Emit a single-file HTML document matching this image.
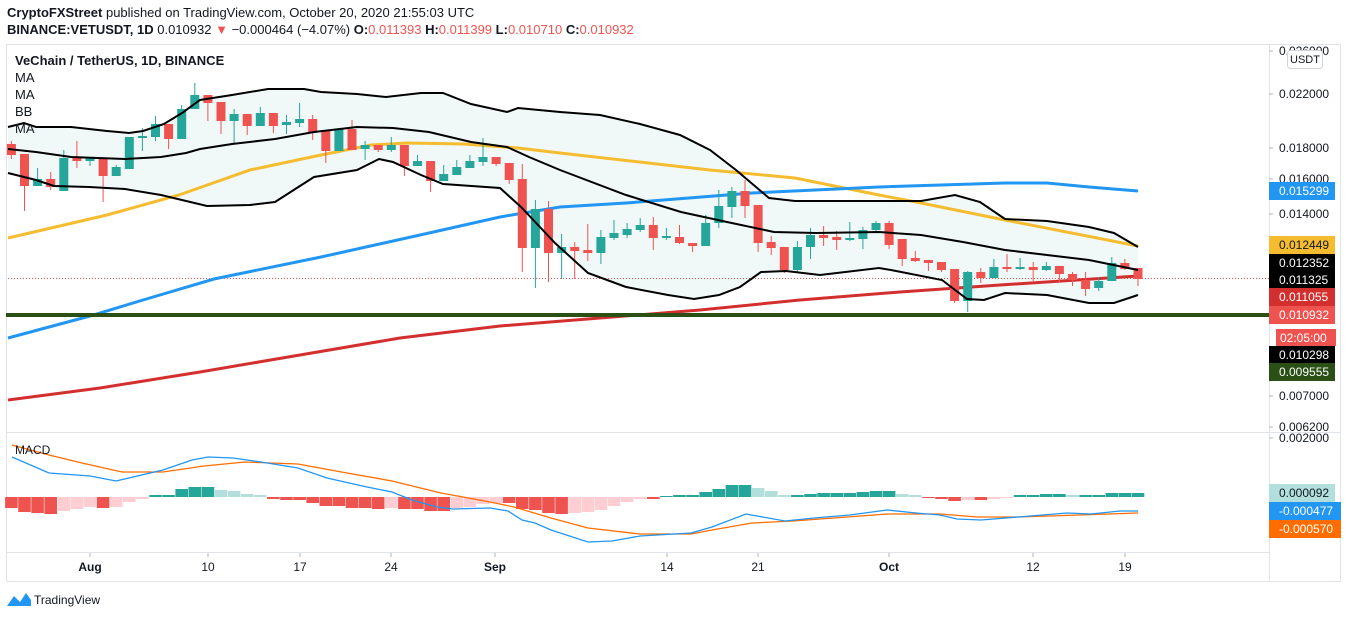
<!DOCTYPE html>
<html><head><meta charset="utf-8"><style>
body{margin:0;width:1348px;height:618px;background:#fff;font-family:"Liberation Sans",sans-serif;overflow:hidden;position:relative}
.t{position:absolute;font-size:13px;color:#131722;white-space:nowrap}
</style></head><body>
<div class="t" style="left:7px;top:5px;font-size:13px"><b>CryptoFXStreet</b> published on TradingView.com, October 20, 2020 21:55:03 UTC</div>
<div class="t" style="left:7px;top:22px;font-size:13px"><b>BINANCE:VETUSDT, 1D</b> 0.010932 <span style="color:#ef5350">▼</span> −0.000464 (−4.07%) <b>O:</b><span style="color:#ef5350">0.011393</span> <b>H:</b><span style="color:#ef5350">0.011399</span> <b>L:</b><span style="color:#ef5350">0.010710</span> <b>C:</b><span style="color:#ef5350">0.010932</span></div>
<svg id="s" width="1348" height="618" style="position:absolute;left:0;top:0" font-family="Liberation Sans, sans-serif"></svg>
<script>
const S=document.getElementById('s');let h='';
function P(pts){return pts.map((p,i)=>(i?'L':'M')+p[0]+' '+p[1]).join(' ')}
const up=[[8,127],[24,123],[36,127],[71,127],[107,131],[129,133],[143,131],[164,124],[182,113],[200,100],[232,95],[268,89],[304,89],[321,92],[357,94],[386,97],[421,93],[443,93],[471,104],[507,112],[518,108],[560,112],[600,115],[640,124],[680,135],[710,150],[736,170],[769,198],[795,201],[921,201],[955,195],[980,202],[1005,219],[1047,221],[1089,227],[1114,233],[1138,247]];
const mid=[[8,149],[36,152],[71,157],[125,159],[161,157],[186,153],[200,149],[232,144],[275,139],[314,132],[357,127],[393,128],[429,132],[471,142],[507,147],[529,157],[560,170],[626,195],[681,212],[727,222],[774,232],[816,233],[879,232],[921,235],[963,242],[1005,250],[1047,255],[1089,260],[1138,270]];
const lo=[[8,173],[36,180],[54,186],[89,187],[125,189],[161,195],[207,206],[250,205],[275,202],[314,177],[357,170],[379,159],[393,162],[421,175],[443,184],[500,188],[521,207],[555,243],[588,273],[626,287],[668,295],[694,299],[719,295],[740,287],[761,272],[786,271],[820,275],[879,268],[891,270],[942,280],[967,299],[984,300],[1005,293],[1047,295],[1089,303],[1114,303],[1138,295]];
// grid/frame
h+='<rect x="6.5" y="44.5" width="1334" height="537" fill="none" stroke="#e0e3eb"/>';
h+='<line x1="1269.5" y1="44" x2="1269.5" y2="581" stroke="#e0e3eb"/>';
h+='<line x1="6" y1="432.5" x2="1340" y2="432.5" stroke="#e0e3eb"/>';
h+='<line x1="6" y1="552.5" x2="1269" y2="552.5" stroke="#e0e3eb"/>';
h+='<path d="'+P(up)+' '+P(lo.slice().reverse()).replace('M','L')+' Z" fill="#eef6f6" opacity="0.8"/>';
h+='<line x1="8" y1="278.5" x2="1269" y2="278.5" stroke="#ef5350" stroke-dasharray="1,2"/>';
h+='<path d="'+P([[8,238],[107,215],[179,195],[250,170],[321,155],[371,145],[407,143],[464,144],[518,148],[560,153],[710,170],[795,178],[879,195],[921,203],[1005,220],[1138,246]])+'" fill="none" stroke="#f6bc2f" stroke-width="3"/>';
h+='<path d="'+P([[8,338],[90,316],[143,300],[214,279],[321,257],[429,233],[500,217],[560,207],[626,203],[752,193],[879,187],[1005,183],[1047,183],[1089,187],[1138,191]])+'" fill="none" stroke="#2196f3" stroke-width="3"/>';
h+='<path d="'+P([[8,400],[100,388],[200,372],[300,355],[400,338],[500,326],[600,318],[700,310],[800,300],[900,292],[1000,285],[1138,276]])+'" fill="none" stroke="#d32f2f" stroke-width="3"/>';
h+='<rect x="6" y="313" width="1263" height="4" fill="#2a5016"/>';
// candles [o,c,hi,lo]
const C=[[144,155,141,159],[154,186,154,211],[186,179,168,186],[179,187,172,190],[191,158,150,191],[158,161,141,168],[161,158,158,166],[158,176,158,202],[176,167,165,176],[169,137,137,169],[138,136,128,151],[137,124,116,141],[124,139,124,149],[139,109,105,139],[109,95,83,109],[95,103,95,121],[102,121,102,134],[121,114,109,143],[114,126,114,135],[126,113,107,126],[113,126,113,133],[125,122,115,134],[123,119,103,127],[119,133,115,140],[131,151,131,163],[151,129,129,151],[129,150,120,150],[149,145,141,160],[145,150,145,152],[150,145,137,152],[145,166,145,176],[166,161,155,166],[161,181,161,192],[181,174,165,181],[175,167,160,175],[168,161,155,168],[162,157,138,166],[157,164,157,166],[163,180,163,184],[179,248,164,272],[248,209,200,288],[209,253,201,282],[253,247,234,279],[247,251,242,279],[250,253,224,261],[253,237,230,264],[238,233,220,240],[235,229,223,238],[230,225,218,232],[225,238,217,250],[238,236,228,240],[237,243,225,244],[243,246,243,252],[246,223,215,246],[223,206,190,228],[207,191,187,218],[191,206,180,218],[205,243,205,252],[242,248,236,255],[247,270,247,273],[270,247,241,272],[247,235,228,259],[235,238,226,246],[237,240,231,250],[240,238,222,241],[239,230,227,249],[230,223,221,232],[223,245,221,249],[239,259,239,266],[258,261,251,262],[260,263,260,271],[262,270,262,272],[269,301,269,303],[301,272,271,312],[272,278,268,283],[278,267,259,278],[267,269,254,272],[269,267,258,270],[267,270,262,281],[270,266,262,271],[266,274,266,282],[274,280,272,286],[280,289,272,296],[288,281,277,291],[281,263,257,281],[263,269,259,270],[268,279,268,286]];
C.forEach((c,i)=>{const x=11.4+i*13.1,g=c[1]<c[0],col=g?'#26a69a':'#ef5350';const t=Math.min(c[0],c[1]),b=Math.max(c[0],c[1]);
h+=`<line x1="${x}" y1="${c[2]}" x2="${x}" y2="${c[3]}" stroke="${col}"/><rect x="${x-4.5}" y="${t}" width="9" height="${Math.max(b-t,1.5)}" fill="${col}"/>`;});
h+='<path d="'+P(up)+'" fill="none" stroke="#000" stroke-width="2"/><path d="'+P(mid)+'" fill="none" stroke="#000" stroke-width="2"/><path d="'+P(lo)+'" fill="none" stroke="#000" stroke-width="2"/>';
// MACD hist
const H=[-11,-15,-16,-17,-14,-12,-10,-11,-10,-5,-2,2,2,8,10,10,7,6,3,2,-2,-3,-3,-6,-9,-9,-11,-11,-12,-11,-12,-12,-14,-14,-11,-10,-7,-6,-6,-12,-13,-16,-17,-16,-15,-13,-9,-5,-2,-2,1,2,2,5,8,12,12,9,6,2,2,3,4,4,4,5,6,6,3,2,-1,-2,-4,-3,-3,-2,-1,2,2,3,3,2,2,2,4,4,4];
H.forEach((v,i)=>{const x=11.4+i*13.1,p=i?H[i-1]:v;let col;if(v>=0)col=v>=p?'#26a69a':'#b2dfdb';else col=v<=p?'#ef5350':'#ffcdd2';
h+=`<rect x="${x-6.3}" y="${v>0?497-v:497}" width="12.6" height="${Math.abs(v)}" fill="${col}"/>`;});
h+='<path d="'+P([[12,445],[49,455],[82,463],[122,472],[163,472],[204,466],[245,462],[298,464],[347,473],[392,481],[441,493],[490,502],[514,507],[551,518],[588,528],[640,534],[691,534],[712,530],[752,523],[793,521],[834,518],[887,514],[940,514],[977,517],[1018,517],[1079,515],[1138,513]])+'" fill="none" stroke="#ff6d00" stroke-width="1.3"/>';
h+='<path d="'+P([[12,457],[49,473],[90,476],[116,481],[163,470],[192,460],[208,457],[233,458],[261,462],[298,468],[327,478],[367,487],[392,492],[412,500],[437,507],[453,509],[490,508],[508,511],[522,520],[535,523],[551,530],[588,542],[612,541],[640,536],[691,533],[712,527],[746,514],[757,516],[785,521],[814,518],[850,515],[887,510],[916,513],[940,515],[957,519],[981,520],[1018,517],[1067,513],[1091,514],[1120,511],[1138,511]])+'" fill="none" stroke="#2196f3" stroke-width="1.3"/>';
// legend
h+='<text x="15" y="65" font-size="13" font-weight="bold" fill="#131722">VeChain / TetherUS, 1D, BINANCE</text>';
['MA','MA','BB','MA'].forEach((t,i)=>h+=`<text x="15" y="${82+i*17}" font-size="13" fill="#131722">${t}</text>`);
h+='<text x="15" y="454" font-size="12" fill="#131722">MACD</text>';
// time axis
[['Aug',90],['10',208],['17',300],['24',391],['Sep',495],['14',667],['21',758],['Oct',889],['12',1033],['19',1125]].forEach(([t,x])=>{h+=`<line x1="${x}" y1="553" x2="${x}" y2="557" stroke="#b2b5be"/><text x="${x}" y="571" font-size="12" text-anchor="middle" fill="#131722" ${isNaN(t)?'font-weight="bold"':''}>${t}</text>`});
// price axis
[['0.026000',51],['0.022000',94],['0.018000',148],['0.016000',179],['0.014000',214],['0.007000',396],['0.006200',427],['0.002000',438]].forEach(([t,y])=>{h+=`<line x1="1269" y1="${y}" x2="1273" y2="${y}" stroke="#b2b5be"/><text x="1279" y="${y+4}" font-size="12" fill="#131722">${t}</text>`});
h+='<rect x="1287.5" y="50.5" width="35" height="18" rx="3" fill="#fff" stroke="#d1d4dc"/><text x="1305" y="63" font-size="11" text-anchor="middle" fill="#131722">USDT</text>';
[['0.015299',182,'#2196f3','#fff'],['0.012449',236,'#f6bc2f','#131722'],['0.012352',254,'#000','#fff'],['0.011325',271,'#000','#fff'],['0.011055',288,'#d32f2f','#fff'],['0.010932',306,'#ef5350','#fff'],['0.010298',346,'#000','#fff'],['0.009555',363,'#2a5016','#fff'],['0.000092',484,'#b2dfdb','#131722'],['-0.000477',502,'#2196f3','#fff'],['-0.000570',520,'#ff6d00','#fff']].forEach(([t,y,b,f])=>{h+=`<rect x="1269" y="${y}" width="${t[0]=='-'?72:66}" height="18" fill="${b}"/><text x="1279" y="${y+13}" font-size="12" fill="${f}">${t}</text>`});
h+='<rect x="1276" y="329" width="60" height="17" fill="#ef5350"/><text x="1280" y="342" font-size="12" fill="#fff">02:05:00</text>';
// logo
h+='<path d="M7 606 L14 596 L20 602 L26 593 L31 600 L31 606 Z" fill="#2196f3"/><text x="34" y="604" font-size="12" fill="#131722">TradingView</text>';
S.innerHTML=h;
</script>
</body></html>
